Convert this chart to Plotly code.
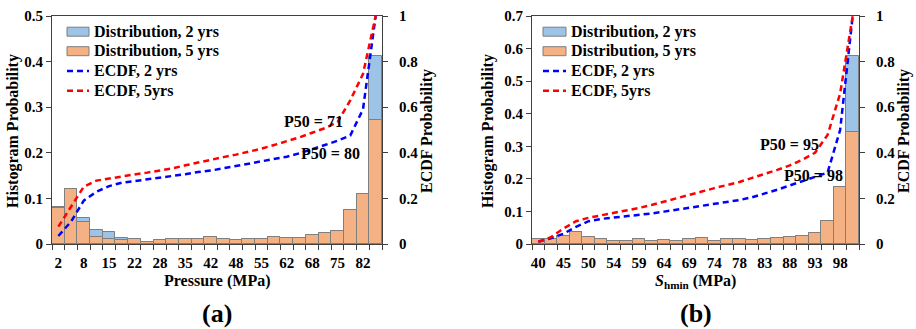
import plotly.graph_objects as go
from plotly.subplots import make_subplots

W, H = 916, 329

# ---------------- data ----------------
bins = list(range(26))

p_tick_labels = ["2", "8", "15", "22", "28", "35", "42", "48", "55", "62", "68", "75", "82"]
p_hist_2yrs = [0.081, 0.121, 0.058, 0.031, 0.027, 0.014, 0.011, 0.005, 0.0095, 0.012, 0.010, 0.010, 0.015,
               0.012, 0.008, 0.011, 0.011, 0.015, 0.013, 0.013, 0.019, 0.025, 0.028, 0.074, 0.110, 0.412]
p_hist_5yrs = [0.080, 0.121, 0.049, 0.016, 0.011, 0.0095, 0.011, 0.005, 0.0095, 0.012, 0.010, 0.010, 0.015,
               0.011, 0.008, 0.011, 0.011, 0.015, 0.013, 0.013, 0.019, 0.025, 0.028, 0.074, 0.110, 0.272]
p_ecdf_2yrs = [0.035, 0.098, 0.190, 0.229, 0.254, 0.269, 0.276, 0.283, 0.290, 0.298, 0.306, 0.316, 0.322,
               0.332, 0.342, 0.352, 0.362, 0.372, 0.383, 0.398, 0.415, 0.434, 0.453, 0.476, 0.590, 1.0]
p_ecdf_5yrs = [0.076, 0.164, 0.251, 0.278, 0.288, 0.298, 0.305, 0.313, 0.322, 0.332, 0.345, 0.358, 0.370,
               0.381, 0.392, 0.404, 0.418, 0.434, 0.450, 0.468, 0.488, 0.508, 0.535, 0.630, 0.745, 1.0]

s_tick_labels = ["40", "45", "50", "54", "59", "64", "69", "74", "78", "83", "88", "93", "98"]
s_hist_2yrs = [0.016, 0.016, 0.025, 0.038, 0.021, 0.016, 0.008, 0.0085, 0.014, 0.0105, 0.011, 0.0105, 0.016,
               0.017, 0.009, 0.0145, 0.0155, 0.0115, 0.015, 0.018, 0.0225, 0.025, 0.033, 0.070, 0.176, 0.577]
s_hist_5yrs = [0.016, 0.016, 0.025, 0.038, 0.021, 0.016, 0.008, 0.0085, 0.014, 0.0105, 0.011, 0.0105, 0.016,
               0.017, 0.009, 0.0145, 0.0155, 0.0115, 0.015, 0.018, 0.0225, 0.025, 0.033, 0.070, 0.176, 0.345]
s_ecdf_2yrs = [0.010, 0.025, 0.045, 0.075, 0.100, 0.110, 0.116, 0.121, 0.128, 0.134, 0.142, 0.150, 0.160,
               0.168, 0.175, 0.183, 0.193, 0.205, 0.220, 0.238, 0.257, 0.275, 0.295, 0.313, 0.500, 1.0]
s_ecdf_5yrs = [0.010, 0.030, 0.068, 0.100, 0.115, 0.125, 0.135, 0.146, 0.158, 0.171, 0.185, 0.200, 0.215,
               0.230, 0.245, 0.258, 0.272, 0.290, 0.306, 0.325, 0.345, 0.370, 0.400, 0.478, 0.660, 1.0]

# ---------------- style ----------------
BLUE_FILL = "#9DC3E6"
ORANGE_FILL = "#F4B183"
EDGE = "#7F7F7F"
AXIS = "#404040"
FONT = "Liberation Serif"


def px(x):
    return x / W


def py(y):
    return 1 - y / H


fig = make_subplots(rows=1, cols=2, specs=[[{"secondary_y": True}, {"secondary_y": True}]])


def add_panel(col, h2, h5, e2, e5):
    fig.add_trace(go.Bar(x=bins, y=h2, width=1, name="Distribution, 2 yrs",
                         marker=dict(color=BLUE_FILL, line=dict(color=EDGE, width=1))),
                  row=1, col=col, secondary_y=False)
    fig.add_trace(go.Bar(x=bins, y=h5, width=1, name="Distribution, 5 yrs",
                         marker=dict(color=ORANGE_FILL, line=dict(color=EDGE, width=1))),
                  row=1, col=col, secondary_y=False)
    fig.add_trace(go.Scatter(x=bins, y=e2, mode="lines", name="ECDF, 2 yrs",
                             line=dict(color="#0000FF", width=2.5, dash="6px,4px")),
                  row=1, col=col, secondary_y=True)
    fig.add_trace(go.Scatter(x=bins, y=e5, mode="lines", name="ECDF, 5yrs",
                             line=dict(color="#FF0000", width=2.5, dash="6px,4px")),
                  row=1, col=col, secondary_y=True)


add_panel(1, p_hist_2yrs, p_hist_5yrs, p_ecdf_2yrs, p_ecdf_5yrs)
add_panel(2, s_hist_2yrs, s_hist_5yrs, s_ecdf_2yrs, s_ecdf_5yrs)

panels = [
    dict(x0=52, x1=382, xa="xaxis", ya="yaxis", ya2="yaxis2", labels=p_tick_labels, ymax=0.5),
    dict(x0=532, x1=859, xa="xaxis2", ya="yaxis3", ya2="yaxis4", labels=s_tick_labels, ymax=0.7),
]
y_top, y_bot = 16, 244
TICK_SIZE = 15

for p in panels:
    fig.layout[p["xa"]].update(
        domain=[px(p["x0"]), px(p["x1"])], range=[-0.5, 25.5],
        tickmode="array", tickvals=bins[0::2][:13], ticktext=p["labels"],
        ticks="", ticklabelstandoff=5, showgrid=False, zeroline=False,
        showline=True, linecolor=AXIS, linewidth=1, mirror=True,
        tickfont=dict(size=TICK_SIZE),
        minor=dict(tickmode="linear", tick0=-0.5, dtick=1, ticks="outside", ticklen=5,
                   tickcolor=AXIS, tickwidth=1, showgrid=False),
    )
    fig.layout[p["ya"]].update(
        domain=[py(y_bot), py(y_top)], range=[0, p["ymax"]], dtick=0.1, tick0=0,
        ticks="outside", ticklen=5, tickcolor=AXIS, showgrid=False, zeroline=False,
        showline=True, linecolor=AXIS, linewidth=1, tickfont=dict(size=TICK_SIZE),
    )
    fig.layout[p["ya2"]].update(
        range=[0, 1], dtick=0.2, tick0=0, ticks="outside", ticklen=5, tickcolor=AXIS,
        showgrid=False, zeroline=False, showline=True, linecolor=AXIS, linewidth=1,
        ticklabelstandoff=8, tickfont=dict(size=TICK_SIZE),
    )

# ---------------- manual legends ----------------
shapes = []
annotations = []
legend_rows = [
    ("rect", BLUE_FILL, "Distribution, 2 yrs"),
    ("rect", ORANGE_FILL, "Distribution, 5 yrs"),
    ("line", "#0000FF", "ECDF, 2 yrs"),
    ("line", "#FF0000", "ECDF, 5yrs"),
]
row_y = [31.7, 51.2, 71, 90.7]
for lx0, lx1, tx in [(67, 89, 92), (543, 566, 568.5)]:
    for (kind, color, label), yc in zip(legend_rows, row_y):
        if kind == "rect":
            shapes.append(dict(type="rect", xref="paper", yref="paper",
                               x0=px(lx0), x1=px(lx1), y0=py(yc + 4.5), y1=py(yc - 4.5),
                               fillcolor=color, line=dict(color=EDGE, width=1)))
        else:
            shapes.append(dict(type="line", xref="paper", yref="paper",
                               x0=px(lx0), x1=px(lx1), y0=py(yc), y1=py(yc),
                               line=dict(color=color, width=2.5, dash="6px,4px")))
        annotations.append(dict(text=label, xref="paper", yref="paper", x=px(tx), y=py(yc),
                                xanchor="left", yanchor="middle", showarrow=False,
                                font=dict(size=16)))

# ---------------- text annotations ----------------
def ann(text, x, y, size=16, angle=0):
    annotations.append(dict(text=text, xref="paper", yref="paper", x=px(x), y=py(y),
                            xanchor="center", yanchor="middle", showarrow=False,
                            textangle=angle, font=dict(size=size)))


ann("P50 = 71", 313, 121.7)
ann("P50 = 80", 330, 153.3)
ann("P50 = 95", 789, 144.5)
ann("P50 = 98", 813, 175)

ann("Histogram Probability", 13, 131, angle=-90)
ann("ECDF Probability", 427, 131, angle=-90)
ann("Histogram Probability", 488, 131, angle=-90)
ann("ECDF Probability", 904, 131, angle=-90)

ann("Pressure (MPa)", 217, 281)
ann("<i>S</i><sub>hmin</sub> (MPa)", 695.5, 281)

ann("(a)", 217, 313, size=26)
ann("(b)", 696, 313, size=26)

fig.update_layout(
    width=W, height=H, template="none",
    margin=dict(l=0, r=0, t=0, b=0),
    paper_bgcolor="white", plot_bgcolor="white",
    barmode="overlay", bargap=0, showlegend=False,
    font=dict(family=FONT, size=16, color="black", weight="bold"),
    shapes=shapes, annotations=annotations,
)

fig.write_html("out.html", config={"displayModeBar": False},
               post_script="document.body.style.margin='0px';document.body.style.overflow='hidden';")
